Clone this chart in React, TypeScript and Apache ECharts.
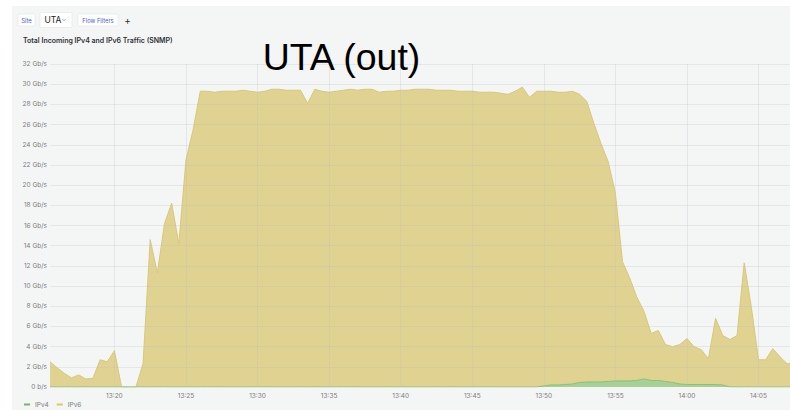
import React, { useEffect, useRef } from "react";
import * as echarts from "echarts";

// Samples every 30 s starting at 13:15:30 (minutes after 13:00)
const startMinute = 15.5;
const stepMinutes = 0.5;

const seriesNames = ["IPv4", "IPv6"];

// IPv6 traffic, Gb/s
const ipv6Values = [
  2.5, 1.9, 1.35, 0.9, 1.2, 0.8, 0.85, 2.7, 2.5, 3.6,
  0, 0, 0, 2.3, 14.6, 11.3, 16.2, 18.2, 14.2, 22.5,
  25.5, 29.3, 29.3, 29.2, 29.3, 29.3, 29.3, 29.4, 29.3, 29.2,
  29.3, 29.5, 29.5, 29.4, 29.4, 29.4, 28.1, 29.5, 29.3, 29.2,
  29.3, 29.4, 29.5, 29.4, 29.5, 29.5, 29.2, 29.3, 29.3, 29.4,
  29.4, 29.5, 29.5, 29.5, 29.4, 29.4, 29.4, 29.3, 29.3, 29.3,
  29.2, 29.2, 29.2, 29.1, 29.0, 29.3, 29.7, 28.7, 29.3, 29.3,
  29.3, 29.2, 29.2, 29.3, 29.0, 28.3, 26.1, 24.1, 22.3, 19.2,
  12.4, 10.8, 8.9, 7.5, 5.3, 5.6, 4.2, 4.0, 4.2, 4.8,
  4.0, 3.7, 2.8, 6.8, 5.1, 4.7, 5.1, 12.3, 7.9, 2.7,
  2.7, 3.8, 3.0, 2.3, 2.4,
];

// IPv4 traffic, Gb/s
const ipv4Values = [
  0, 0, 0, 0, 0, 0, 0, 0, 0, 0,
  0, 0, 0, 0, 0, 0, 0, 0, 0, 0,
  0, 0, 0, 0, 0, 0, 0, 0, 0, 0,
  0, 0, 0, 0, 0, 0, 0, 0, 0, 0,
  0, 0, 0, 0, 0, 0, 0, 0, 0, 0,
  0, 0, 0, 0, 0, 0, 0, 0, 0, 0,
  0, 0, 0, 0, 0, 0, 0, 0, 0, 0.1,
  0.2, 0.2, 0.25, 0.3, 0.45, 0.5, 0.5, 0.5, 0.55, 0.6,
  0.6, 0.6, 0.65, 0.8, 0.65, 0.65, 0.55, 0.45, 0.3, 0.25,
  0.25, 0.25, 0.25, 0.25, 0.2, 0, 0, 0, 0, 0,
  0, 0, 0, 0, 0,
];

// Tick positions
const timeTicks = [20, 25, 30, 35, 40, 45, 50, 55, 60, 65]; // minutes after 13:00
const rateTicks = [2, 4, 6, 8, 10, 12, 14, 16, 18, 20, 22, 24, 26, 28, 30, 32];

const xMin = 15.5;
const xMax = 67.2;
const yMax = 32;
const yInterval = 2;

const fmtTime = (v: number) => {
  const total = 13 * 60 + v;
  const h = Math.floor(total / 60);
  const m = Math.round(total % 60);
  return `${h}:${m < 10 ? "0" + m : m}`;
};

const fmtRate = (v: number) => (v === 0 ? "0 b/s" : `${v} Gb/s`);

export default function App() {
  const ref = useRef<HTMLDivElement>(null);
  useEffect(() => {
    if (!ref.current) return;
    const chart = echarts.init(ref.current, undefined, { renderer: "svg" });
    const toPairs = (vals: number[]) =>
      vals.map((v, i) => [startMinute + i * stepMinutes, v]);
    const font = "Inter, 'Noto Sans', sans-serif";
    const gridColor = "rgba(190,192,195,0.28)";
    chart.setOption({
      animation: false,
      backgroundColor: "#f4f5f5",
      grid: { left: 50, right: 0, top: 64, bottom: 23, containLabel: false },
      xAxis: {
        type: "value",
        min: xMin,
        max: xMax,
        minInterval: 5,
        maxInterval: 5,
        axisLine: { show: false },
        axisTick: { show: false },
        splitLine: { show: false },
        axisLabel: {
          showMinLabel: false,
          showMaxLabel: false,
          formatter: (v: number) => (Math.abs(v % 5) < 1e-6 ? fmtTime(v) : ""),
          color: "#7b7d80",
          fontSize: 6.5,
          fontFamily: font,
          margin: 5,
        },
      },
      yAxis: {
        type: "value",
        min: 0,
        max: yMax,
        interval: yInterval,
        axisLine: { show: false },
        axisTick: { show: false },
        splitLine: { show: false },
        axisLabel: {
          formatter: fmtRate,
          color: "#7b7d80",
          fontSize: 6.5,
          fontFamily: font,
          margin: 3,
        },
      },
      legend: {
        left: 24,
        top: 401,
        padding: 0,
        icon: "rect",
        itemWidth: 6,
        itemHeight: 2,
        itemGap: 8,
        data: seriesNames,
        textStyle: { color: "#7b7d80", fontSize: 6.5, fontFamily: font },
      },
      series: [
        {
          name: seriesNames[0],
          type: "line",
          z: 3,
          data: toPairs(ipv4Values),
          showSymbol: false,
          lineStyle: { color: "#86c27a", width: 1 },
          itemStyle: { color: "#73b864" },
          areaStyle: { color: "#a7cf98", opacity: 1 },
          markLine: {
            silent: true,
            symbol: ["none", "none"],
            label: { show: false },
            animation: false,
            lineStyle: { color: gridColor, width: 1, type: "solid" },
            data: [
              ...timeTicks.map((t) => ({ xAxis: t })),
              ...rateTicks.map((r) => ({ yAxis: r })),
            ],
          },
        },
        {
          name: seriesNames[1],
          type: "line",
          z: 2,
          data: toPairs(ipv6Values),
          showSymbol: false,
          lineStyle: { color: "#d8c77a", width: 1 },
          itemStyle: { color: "#e2c95a" },
          areaStyle: { color: "#e0d392", opacity: 1 },
        },
      ],
      graphic: [
        { type: "rect", left: 0, top: 0, shape: { width: 12, height: 410 }, style: { fill: "#ffffff" }, z: 10 },
        { type: "rect", left: 0, top: 0, shape: { width: 790, height: 6 }, style: { fill: "#ffffff" }, z: 10 },
        { type: "rect", x: 18, y: 14, shape: { width: 17, height: 12, r: 1 }, style: { fill: "#ffffff", stroke: "#e3e4e6", lineWidth: 0.6 }, z: 10 },
        { type: "text", x: 26.5, y: 20, style: { text: "Site", fill: "#4b62c9", fontSize: 6, fontFamily: font, textAlign: "center", textVerticalAlign: "middle" }, z: 11 },
        { type: "rect", x: 40, y: 12.5, shape: { width: 32, height: 15, r: 1 }, style: { fill: "#ffffff", stroke: "#e3e4e6", lineWidth: 0.6 }, z: 10 },
        { type: "text", x: 44.5, y: 20.2, style: { text: "UTA", fill: "#222222", fontSize: 8.5, fontFamily: font, textAlign: "left", textVerticalAlign: "middle" }, z: 11 },
        { type: "polyline", shape: { points: [[62.5, 19.2], [64, 20.7], [65.5, 19.2]] }, style: { stroke: "#555", lineWidth: 0.6, fill: "none" }, z: 11 },
        { type: "rect", x: 78, y: 14, shape: { width: 40, height: 12, r: 1 }, style: { fill: "#ffffff", stroke: "#e3e4e6", lineWidth: 0.6 }, z: 10 },
        { type: "text", x: 98, y: 20, style: { text: "Flow Filters", fill: "#4b62c9", fontSize: 5.8, fontFamily: font, textAlign: "center", textVerticalAlign: "middle" }, z: 11 },
        { type: "text", x: 127.5, y: 20, style: { text: "+", fill: "#333333", fontSize: 10, fontFamily: font, textAlign: "center", textVerticalAlign: "middle" }, z: 11 },
        { type: "text", x: 23, y: 40.5, style: { text: "Total Incoming IPv4 and IPv6 Traffic (SNMP)", fill: "#303236", fontSize: 7, fontWeight: 600, fontFamily: font, textAlign: "left", textVerticalAlign: "middle" }, z: 11 },
        { type: "text", x: 341.5, y: 57, style: { text: "UTA (out)", fill: "#000000", fontSize: 37.5, fontFamily: "'Liberation Sans', Arial, sans-serif", textAlign: "center", textVerticalAlign: "middle" }, z: 11 },
      ],
    });
    return () => chart.dispose();
  }, []);
  return (
    <div
      ref={ref}
      style={{ position: "fixed", left: 0, top: 0, width: 790, height: 410 }}
    />
  );
}
